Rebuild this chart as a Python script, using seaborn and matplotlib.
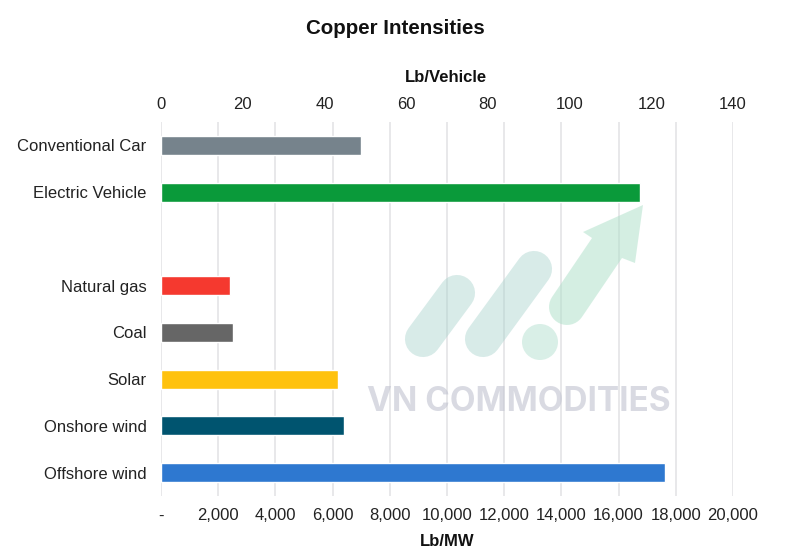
import matplotlib
matplotlib.use("Agg")
import matplotlib.pyplot as plt
import seaborn as sns
import numpy as np
import pandas as pd
from matplotlib.lines import Line2D
from matplotlib.patches import Circle, Polygon

# values
categories = ['Conventional Car', 'Electric Vehicle', ' ', 'Natural gas', 'Coal', 'Solar', 'Onshore wind', 'Offshore wind']
vehicle_names = ['Conventional Car', 'Electric Vehicle']
lb_vehicle = [49, 117.2]
mw_names = ['Natural gas', 'Coal', 'Solar', 'Onshore wind', 'Offshore wind']
lb_mw = [2400, 2530, 6200, 6390, 17630]
bar_colors = ['#76838C', '#0A9A3A', '#FFFFFF', '#F5392F', '#666666', '#FFC20E', '#00546F', '#2E78D0']
top_ticks = [0, 20, 40, 60, 80, 100, 120, 140]
bottom_ticks = [0, 2000, 4000, 6000, 8000, 10000, 12000, 14000, 16000, 18000, 20000]
bottom_labels = ['-', '2,000', '4,000', '6,000', '8,000', '10,000', '12,000', '14,000', '16,000', '18,000', '20,000']

W, H = 800, 558

sns.set_theme(style='white')
plt.rcParams['font.family'] = ['Liberation Sans', 'DejaVu Sans']
plt.rcParams['text.color'] = '#222222'

palette = dict(zip(categories, bar_colors))
df_mw = pd.DataFrame({'category': mw_names, 'value': lb_mw})
df_car = pd.DataFrame({'category': vehicle_names, 'value': lb_vehicle})

fig = plt.figure(figsize=(W / 100, H / 100), dpi=100, facecolor='white')
ax = fig.add_axes([161 / W, 1 - 496 / H, (733 - 161) / W, (496 - 122) / H])
ax2 = ax.twiny()

# bottom axis, power generation
sns.barplot(data=df_mw, x='value', y='category', hue='category', order=categories, palette=palette,
            width=0.41, saturation=1, errorbar=None, legend=False, ax=ax)
# top axis, vehicles
sns.barplot(data=df_car, x='value', y='category', hue='category', order=categories, palette=palette,
            width=0.41, saturation=1, errorbar=None, legend=False, ax=ax2)

ax.set_xlim(0, 20000)
ax2.set_xlim(0, 140)
ax.set_ylim(7.5, -0.5)

ax.set_xticks(bottom_ticks)
ax.set_xticklabels(bottom_labels)
ax2.set_xticks(top_ticks)
ax.set_yticks(range(len(categories)))
ax.set_yticklabels(categories)

ax.set_axisbelow(True)
ax.xaxis.grid(True, color='#E6E6E8', linewidth=1.3)
ax.yaxis.grid(False)
ax2.grid(False)
ax.set_ylabel('')
ax2.set_ylabel('')

ax.tick_params(axis='x', length=0, pad=9, labelsize=12, labelcolor='#222222')
ax.tick_params(axis='y', length=0, pad=10.5, labelsize=12, labelcolor='#222222')
ax2.tick_params(axis='x', length=0, pad=7, labelsize=12, labelcolor='#222222')
ax.set_xlabel('')
ax2.set_xlabel('')
for s in ax2.spines.values():
    s.set_visible(False)
for s in ax.spines.values():
    s.set_visible(False)

def fx(x):
    return x / W

def fy(y):
    return 1 - y / H

# titles
fig.text(fx(395), fy(28), 'Copper Intensities', ha='center', va='center', fontsize=14.8, fontweight='bold', color='#111111')
fig.text(fx(446), fy(78), 'Lb/Vehicle', ha='center', va='center', fontsize=12, fontweight='bold', color='#111111')
fig.text(fx(447), fy(541), 'Lb/MW', ha='center', va='center', fontsize=12, fontweight='bold', color='#111111')

# watermark
pill = '#A9D3CD'
for (x0, y0, x1, y1) in [(423, 339, 457, 293), (483, 339, 534, 269)]:
    fig.add_artist(Line2D([fx(x0), fx(x1)], [fy(y0), fy(y1)], transform=fig.transFigure, color=pill,
                          alpha=0.45, linewidth=26, solid_capstyle='round', zorder=5))
fig.add_artist(Circle((540, H - 342), 18, transform=None, facecolor='#ABDCCB', edgecolor='none', alpha=0.45, zorder=5))

# arrow as one shape so the alpha does not double up
ang = np.radians(np.linspace(34, 214, 20))
arc = [(567 + 18 * np.cos(a), 307 + 18 * np.sin(a)) for a in ang]
arrow = arc + [(592, 238), (583, 232), (643, 205), (635, 263), (622, 258)]
fig.add_artist(Polygon([(fx(x), fy(y)) for x, y in arrow], closed=True, transform=fig.transFigure,
                       facecolor='#ABDFC7', edgecolor='none', alpha=0.5, zorder=5))
fig.text(fx(519), fy(402), 'VN COMMODITIES', ha='center', va='center', fontsize=24, fontweight='bold',
         family=['Inter', 'DejaVu Sans'], color='#C0C2D0', alpha=0.6, zorder=6)

fig.savefig('out.png', dpi=100)
